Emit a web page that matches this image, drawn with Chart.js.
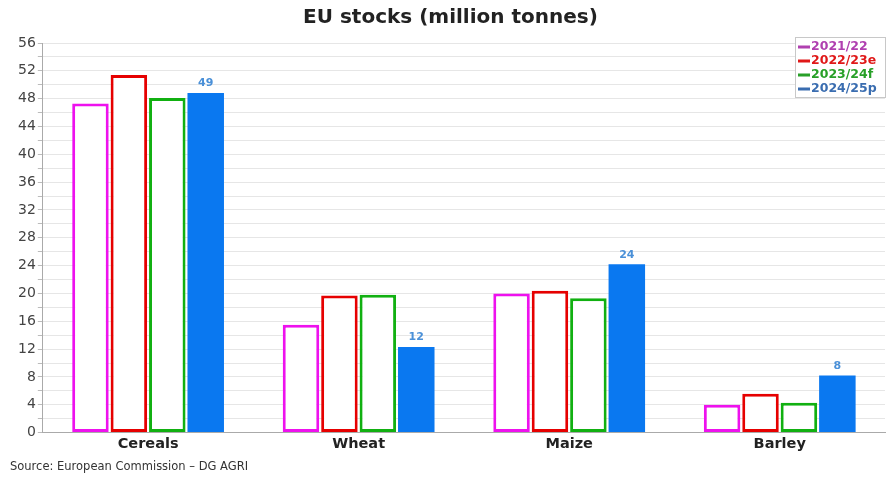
<!DOCTYPE html>
<html lang="en">
  <head>
    <meta charset="UTF-8" />
    <title>EU stocks</title>
    <script src="https://cdn.jsdelivr.net/npm/chart.js"></script>
    <style>
      html, body { margin: 0; padding: 0; background: #fff; }
      #wrap { width: 887px; height: 478px; }
    </style>
  </head>
  <body>
    <div id="wrap"><canvas id="stocksChart"></canvas></div>

    <script>
      const categories = ["Cereals", "Wheat", "Maize", "Barley"];
      const seasons = ["2021/22", "2022/23e", "2023/24f", "2024/25p"];
      const stocks2122 = [47.3, 15.5, 20.0, 4.0];
      const stocks2223 = [51.4, 19.7, 20.4, 5.6];
      const stocks2324 = [48.1, 19.8, 19.3, 4.3];
      const stocks2425 = [48.8, 12.3, 24.2, 8.2];
      const yTicks = [0, 4, 8, 12, 16, 20, 24, 28, 32, 36, 40, 44, 48, 52, 56];
      const sourceNote = "Source: European Commission \u2013 DG AGRI";

      const lineColors = ["#ee11ee", "#e60000", "#11b011", "#0a78f0"];
      const legendText = ["#b040b0", "#e01818", "#28a028", "#3a6db0"];
      const font = "DejaVu Sans";

      // legend box drawn inside the plot, top right
      const boxLegend = {
        id: "boxLegend",
        afterDraw(chart) {
          const ctx = chart.ctx;
          const x = 795, y = 37, w = 91, h = 61;
          ctx.save();
          ctx.fillStyle = "#fff";
          ctx.fillRect(x, y, w, h);
          ctx.strokeStyle = "#c8c8c8";
          ctx.lineWidth = 1;
          ctx.strokeRect(x + 0.5, y + 0.5, w - 1, h - 1);
          ctx.font = "bold 12.5px '" + font + "'";
          ctx.textBaseline = "middle";
          chart.data.datasets.forEach((ds, i) => {
            const ly = y + 10 + i * 14;
            ctx.fillStyle = legendText[i];
            ctx.fillRect(x + 3, ly - 1.5, 12, 3);
            ctx.fillText(ds.label, x + 16, ly);
          });
          ctx.restore();
        },
      };

      // value labels above the 2024/25 bars, plus the source line
      const topLabels = {
        id: "topLabels",
        afterDatasetsDraw(chart) {
          const ctx = chart.ctx;
          const meta = chart.getDatasetMeta(3);
          ctx.save();
          ctx.font = "bold 11px '" + font + "'";
          ctx.fillStyle = "#4a90d8";
          ctx.textAlign = "center";
          ctx.textBaseline = "bottom";
          meta.data.forEach((bar, i) => {
            ctx.fillText(Math.round(stocks2425[i]), bar.x, bar.y - 4);
          });
          ctx.font = "11.5px '" + font + "'";
          ctx.fillStyle = "#333";
          ctx.textAlign = "left";
          ctx.textBaseline = "middle";
          ctx.fillText(sourceNote, 10, 467);
          ctx.restore();
        },
      };

      const series = [stocks2122, stocks2223, stocks2324, stocks2425];

      new Chart(document.getElementById("stocksChart"), {
        type: "bar",
        data: {
          labels: categories,
          datasets: series.map((values, i) => ({
            label: seasons[i],
            data: values,
            backgroundColor: i === 3 ? lineColors[3] : "#ffffff",
            borderColor: lineColors[i],
            borderWidth: i === 3 ? 0 : 3,
            borderSkipped: false,
            categoryPercentage: 0.73,
            barPercentage: 0.95,
          })),
        },
        options: {
          responsive: true,
          maintainAspectRatio: false,
          animation: false,
          layout: { padding: { left: 16, right: 2, top: 0, bottom: 22 } },
          plugins: {
            legend: { display: false },
            tooltip: { enabled: false },
            title: {
              display: true,
              text: "EU stocks (million tonnes)",
              color: "#222",
              font: { family: font, size: 20, weight: "bold" },
              padding: { top: 6, bottom: 13 },
            },
          },
          scales: {
            x: {
              grid: { display: false, drawTicks: false },
              border: { color: "#aaaaaa" },
              ticks: {
                color: "#222",
                font: { family: font, size: 14.5, weight: "bold" },
                padding: 3,
              },
            },
            y: {
              min: 0,
              max: 56,
              border: { color: "#aaaaaa" },
              grid: { color: "#e6e6e6", tickLength: 5, tickColor: "#bbbbbb" },
              ticks: {
                stepSize: 2,
                color: "#444",
                font: { family: font, size: 14 },
                padding: 2,
                autoSkip: false,
                callback: (v) => (yTicks.includes(v) ? v : ""),
              },
            },
          },
        },
        plugins: [boxLegend, topLabels],
      });
    </script>
  </body>
</html>
